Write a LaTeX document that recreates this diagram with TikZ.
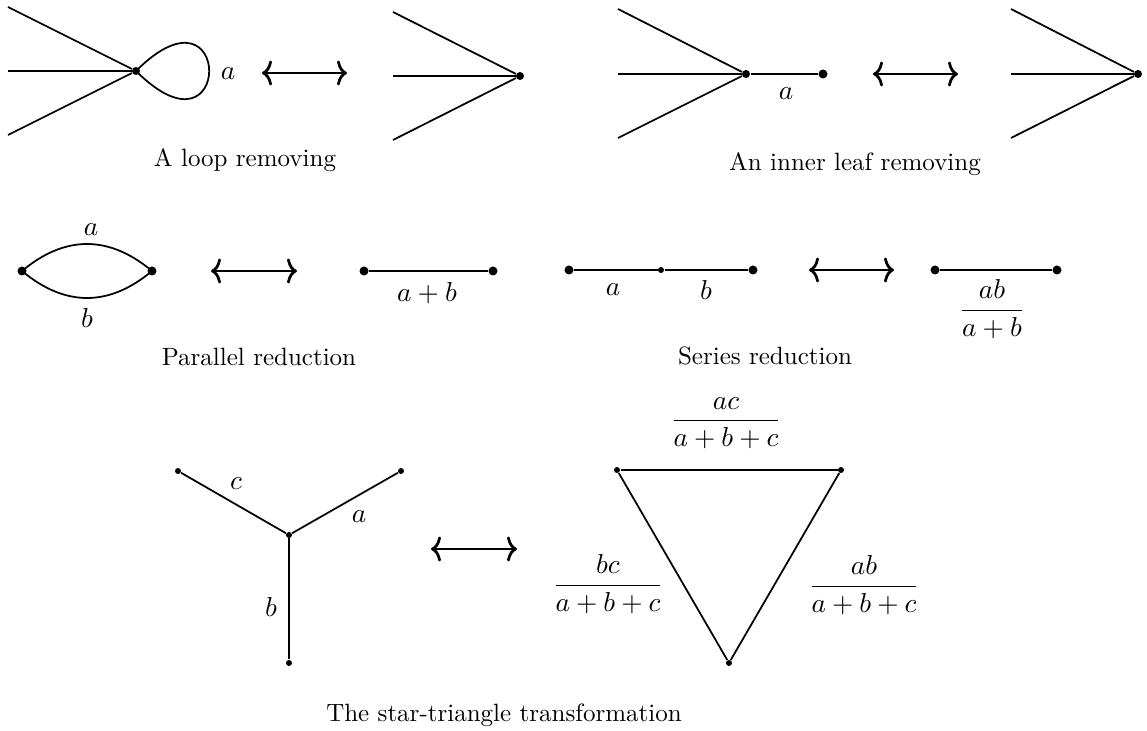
\documentclass[tikz,border=0pt]{standalone}
\usetikzlibrary{arrows.meta}
\begin{document}
\begin{tikzpicture}[x=0.4pt,y=-0.4pt,
  dot/.style={circle,fill,inner sep=0pt,minimum size=3.6pt},
  mdot/.style={circle,fill,inner sep=0pt,minimum size=3.2pt},
  sdot/.style={circle,fill,inner sep=0pt,minimum size=2.4pt},
  edge/.style={line width=0.7pt},
  equiv/.style={line width=1.1pt,{Computer Modern Rightarrow[length=4pt,width=10pt]}-{Computer Modern Rightarrow[length=4pt,width=10pt]}},
  lab/.style={inner sep=0pt,font=\fontsize{10.5}{12}\selectfont},
  blab/.style={inner sep=0pt,font=\fontsize{11}{13}\selectfont},
  captxt/.style={inner sep=0pt,anchor=base,font=\fontsize{10}{12}\selectfont}]
\useasboundingbox (0,0) rectangle (1147,731);

% ---- A loop removing ----
\node[mdot] (v1) at (136,71) {};
\coordinate (p1u) at (8,7);
\coordinate (p1m) at (8,71);
\coordinate (p1l) at (8,135);
\draw[edge] (p1u) -- (v1);
\draw[edge] (p1m) -- (v1);
\draw[edge] (p1l) -- (v1);
\draw[edge] (v1.center) .. controls (233.6,-26.6) and (233.6,168.6) .. (v1.center);
\node[lab] (la1) at (228,74) {$a$};
\coordinate (ar1a) at (262,73);
\coordinate (ar1b) at (347,73);
\draw[equiv] (ar1a) -- (ar1b);
\node[mdot] (v2) at (520,76) {};
\coordinate (p2u) at (393,12);
\coordinate (p2m) at (393,76);
\coordinate (p2l) at (393,140);
\draw[edge] (p2u) -- (v2);
\draw[edge] (p2m) -- (v2);
\draw[edge] (p2l) -- (v2);
\node[captxt] (c1) at (245,167) {A loop removing};

% ---- An inner leaf removing ----
\node[mdot] (v3) at (746,74) {};
\node[dot] (v4) at (823,74) {};
\coordinate (p3u) at (618,9);
\coordinate (p3m) at (618,74);
\coordinate (p3l) at (618,138);
\draw[edge] (p3u) -- (v3);
\draw[edge] (p3m) -- (v3);
\draw[edge] (p3l) -- (v3);
\draw[edge] (v3) -- (v4);
\node[lab] (la2) at (786,94) {$a$};
\coordinate (ar2a) at (873,74);
\coordinate (ar2b) at (958,74);
\draw[equiv] (ar2a) -- (ar2b);
\node[mdot] (v5) at (1138,74) {};
\coordinate (p4u) at (1011,9);
\coordinate (p4m) at (1011,74);
\coordinate (p4l) at (1011,138);
\draw[edge] (p4u) -- (v5);
\draw[edge] (p4m) -- (v5);
\draw[edge] (p4l) -- (v5);
\node[captxt] (c2) at (855,171) {An inner leaf removing};

% ---- Parallel reduction ----
\node[dot] (q1) at (22,271) {};
\node[dot] (q2) at (152,271) {};
\draw[edge] (q1.center) .. controls (65,235) and (109,235) .. (q2.center);
\draw[edge] (q1.center) .. controls (65,307) and (109,307) .. (q2.center);
\node[lab] (la3) at (91,230) {$a$};
\node[lab] (lb3) at (87,318) {$b$};
\coordinate (ar3a) at (211,271);
\coordinate (ar3b) at (297,271);
\draw[equiv] (ar3a) -- (ar3b);
\node[dot] (q3) at (364,271) {};
\node[dot] (q4) at (493,271) {};
\draw[edge] (q3) -- (q4);
\node[lab] (lab3) at (427,293) {$a+b$};
\node[captxt] (c3) at (259,366) {Parallel reduction};

% ---- Series reduction ----
\node[dot] (s1) at (569,270) {};
\node[sdot] (s2) at (661,270) {};
\node[dot] (s3) at (753,270) {};
\draw[edge] (s1) -- (s2);
\draw[edge] (s2) -- (s3);
\node[lab] (la4) at (613,290) {$a$};
\node[lab] (lb4) at (706,290) {$b$};
\coordinate (ar4a) at (809,270);
\coordinate (ar4b) at (894,270);
\draw[equiv] (ar4a) -- (ar4b);
\node[dot] (s4) at (935,270) {};
\node[dot] (s5) at (1057,270) {};
\draw[edge] (s4) -- (s5);
\node[lab] (lab4) at (992,309) {$\displaystyle\frac{ab}{a+b}$};
\node[captxt] (c4) at (765,365) {Series reduction};

% ---- The star-triangle transformation ----
\node[sdot] (t0) at (289,535) {};
\node[sdot] (t1) at (178,471) {};
\node[sdot] (t2) at (401,471) {};
\node[sdot] (t3) at (289,663) {};
\draw[edge] (t1) -- (t0);
\draw[edge] (t2) -- (t0);
\draw[edge] (t3) -- (t0);
\node[blab] (lc5) at (236,484) {$c$};
\node[blab] (la5) at (359,517) {$a$};
\node[blab] (lb5) at (271,607) {$b$};
\coordinate (ar5a) at (431,549);
\coordinate (ar5b) at (517,549);
\draw[equiv] (ar5a) -- (ar5b);
\node[sdot] (d1) at (617,470) {};
\node[sdot] (d2) at (841,470) {};
\node[sdot] (d3) at (729,663) {};
\draw[edge] (d1) -- (d2);
\draw[edge] (d2) -- (d3);
\draw[edge] (d3) -- (d1);
\node[blab] (f1) at (726,423) {$\displaystyle\frac{ac}{a+b+c}$};
\node[blab] (f2) at (608,584) {$\displaystyle\frac{bc}{a+b+c}$};
\node[blab] (f3) at (864,585) {$\displaystyle\frac{ab}{a+b+c}$};
\node[captxt] (c5) at (504,722) {The star-triangle transformation};
\end{tikzpicture}
\end{document}
